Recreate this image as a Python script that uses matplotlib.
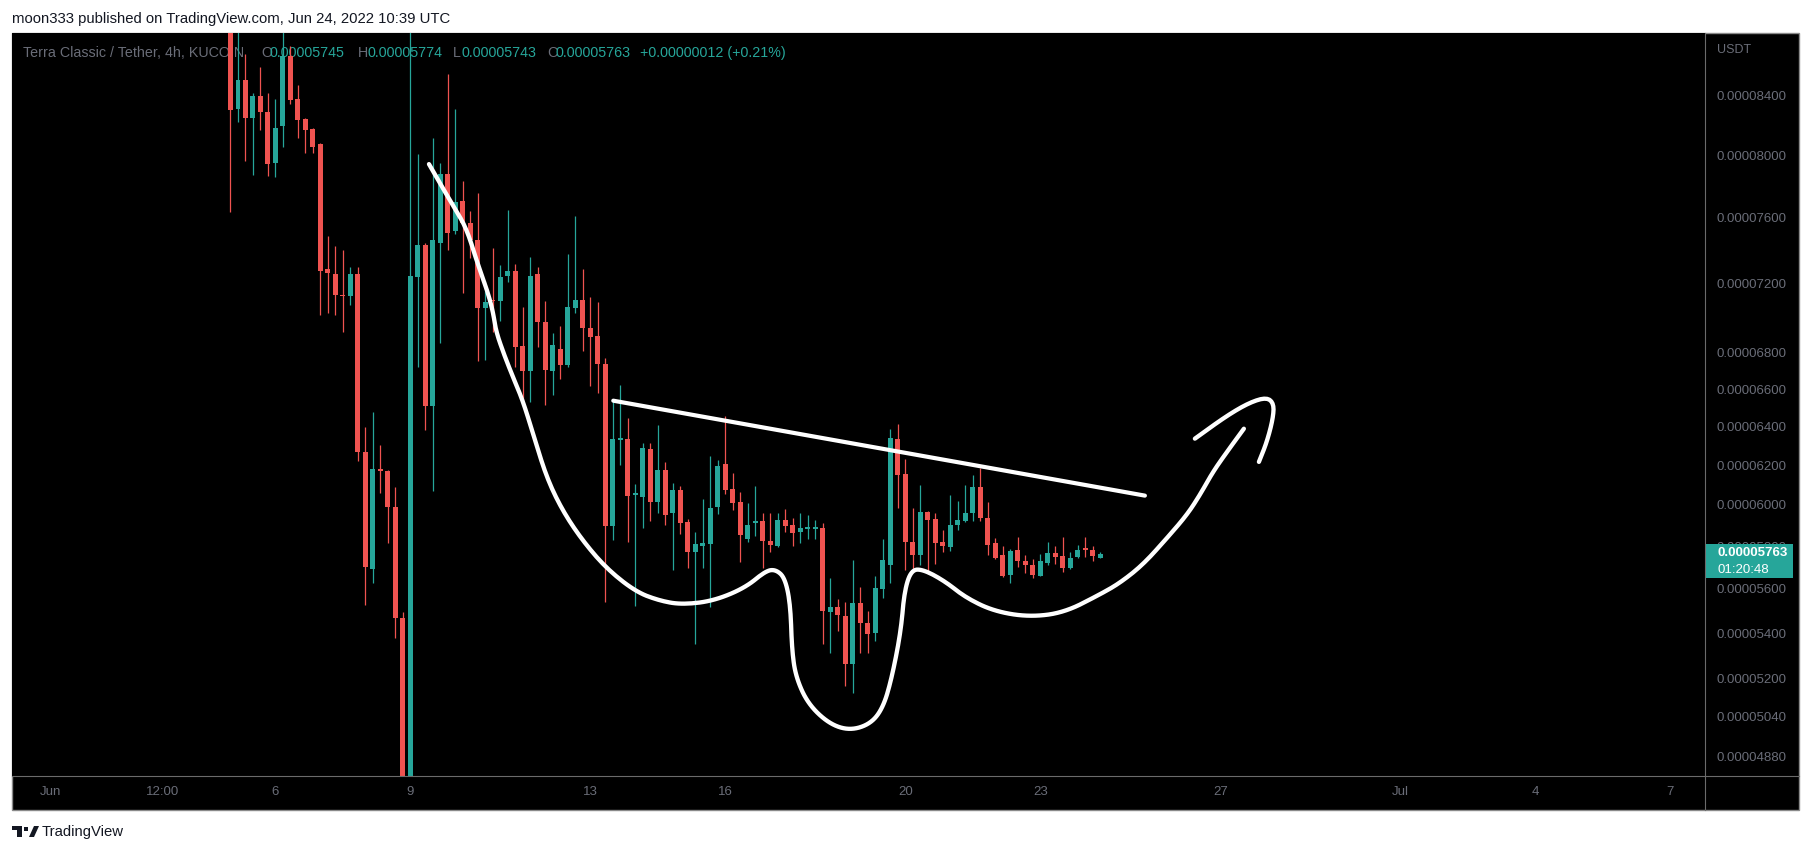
import numpy as np
import matplotlib
matplotlib.use('Agg')
import matplotlib.pyplot as plt
from matplotlib.patches import Rectangle, Polygon
from matplotlib.lines import Line2D
from matplotlib.ticker import FixedLocator, NullLocator, NullFormatter, FuncFormatter

plt.rcParams['font.family'] = ['Liberation Sans', 'DejaVu Sans']

# LUNC/USDT 4h candles, prices in units of 1e-8 USDT, first candle Jun 5 00:00
opens = [8900, 8308, 8508, 8249, 8397, 8290, 7950, 8195, 8677, 8375,
         8240, 8173, 8071, 7287, 7257, 7133, 7123, 7257, 6269, 5694,
         6182, 6168, 5991, 5469, 4700, 7235, 7431, 6511, 7445, 7876,
         7513, 7702, 7565, 7462, 7054, 7100, 7097, 7245, 7275, 6836,
         6700, 7257, 6974, 6700, 6819, 6732, 7057, 7104, 6942, 6892,
         6736, 5897, 6330, 6336, 6050, 6040, 6284, 6016, 6177, 5959,
         6072, 5916, 5772, 5800, 5811, 5988, 6203, 6077, 6013, 5833,
         5912, 5921, 5826, 5800, 5925, 5902, 5867, 5884, 5884, 5886,
         5496, 5518, 5478, 5264, 5536, 5446, 5402, 5600, 5712, 6336,
         6153, 5819, 5758, 5964, 5930, 5819, 5797, 5903, 5921, 5958,
         6087, 5935, 5814, 5759, 5664, 5781, 5730, 5712, 5661, 5720,
         5767, 5753, 5697, 5748, 5791, 5783, 5745]
highs = [9100, 8900, 8696, 8420, 8602, 8416, 8381, 8900, 8750, 8473,
         8247, 8182, 8077, 7483, 7425, 7401, 7296, 7296, 6397, 6475,
         6301, 6175, 6087, 5495, 9000, 8006, 7445, 8110, 7945, 8550,
         8306, 7832, 7641, 7753, 7215, 7411, 7311, 7647, 7317, 7060,
         7356, 7296, 7098, 6909, 6951, 7377, 7610, 7285, 7120, 7090,
         6773, 6537, 6620, 6444, 6102, 6311, 6316, 6405, 6213, 6107,
         6094, 5930, 5867, 6028, 6247, 6224, 6453, 6162, 6062, 6008,
         6092, 5959, 5959, 5962, 5978, 5935, 5959, 5949, 5926, 5911,
         5652, 5551, 5541, 5734, 5607, 5499, 5661, 5832, 6388, 6414,
         6233, 5986, 6099, 5970, 5959, 5878, 6049, 6020, 6099, 6147,
         6186, 6016, 5841, 5799, 5787, 5843, 5756, 5739, 5762, 5822,
         5799, 5846, 5771, 5806, 5846, 5799, 5774]
lows = [7636, 8222, 7962, 7870, 8166, 7864, 7860, 8055, 8342, 8114,
        8015, 8015, 7013, 7023, 7013, 6917, 7071, 6223, 5528, 5627,
        6057, 5813, 5377, 4600, 4500, 6720, 6379, 6069, 6853, 7401,
        7497, 7143, 7350, 6755, 6760, 6919, 6980, 7205, 6720, 6528,
        6528, 6830, 6516, 6568, 6654, 6718, 7027, 6810, 6618, 6577,
        5540, 5830, 6199, 5822, 5521, 5886, 5922, 5959, 5903, 5685,
        5857, 5697, 5351, 5697, 5518, 5954, 6052, 5974, 5727, 5819,
        5848, 5697, 5772, 5794, 5867, 5799, 5814, 5833, 5835, 5351,
        5310, 5409, 5171, 5140, 5314, 5314, 5366, 5556, 5628, 5983,
        5685, 5690, 5712, 5667, 5717, 5771, 5778, 5878, 5918, 5921,
        5921, 5760, 5738, 5655, 5628, 5700, 5674, 5650, 5658, 5712,
        5717, 5679, 5694, 5746, 5748, 5729, 5743]
closes = [8301, 8508, 8249, 8397, 8290, 7943, 8180, 8677, 8370, 8235,
          8168, 8053, 7271, 7259, 7129, 7123, 7257, 6269, 5701, 6178,
          6168, 5989, 5466, 4700, 7245, 7431, 6511, 7462, 7876, 7506,
          7696, 7565, 7462, 7054, 7092, 7095, 7237, 7275, 6832, 6700,
          7245, 6974, 6704, 6841, 6732, 7060, 7104, 6938, 6888, 6735,
          5897, 6336, 6340, 6044, 6058, 6289, 6016, 6177, 5950, 6072,
          5911, 5772, 5810, 5815, 5983, 6197, 6074, 6008, 5854, 5903,
          5922, 5825, 5805, 5925, 5897, 5864, 5886, 5887, 5888, 5499,
          5518, 5480, 5264, 5536, 5443, 5397, 5604, 5734, 6339, 6149,
          5822, 5758, 5964, 5926, 5817, 5802, 5902, 5925, 5959, 6087,
          5938, 5806, 5743, 5660, 5775, 5728, 5712, 5662, 5728, 5769,
          5748, 5697, 5744, 5781, 5783, 5751, 5763]
first_day = 5.0   # June 5, 00:00
bar_hours = 4

price_ticks = [8400, 8000, 7600, 7200, 6800, 6600, 6400, 6200, 6000,
               5800, 5600, 5400, 5200, 5040, 4880]
x_ticks = [1, 3.5, 6, 9, 13, 16, 20, 23, 27, 31, 34, 37]
x_labels = ['Jun', '12:00', '6', '9', '13', '16', '20', '23', '27', 'Jul', '4', '7']

# hand drawn pattern (day of June, price)
cup_days = [9.411, 9.767, 10.011, 10.256, 10.478, 10.7, 10.833, 10.9, 11.078, 11.278,
            11.5, 11.744, 12.033, 12.389, 12.833, 13.367, 14.011, 14.544, 15.033, 15.722,
            16.433, 16.9, 17.122, 17.322, 17.444, 17.478, 17.567, 17.833, 18.3, 18.767,
            19.233, 19.509, 19.7, 19.9, 19.976, 20.133, 20.404, 20.878, 21.344, 21.967,
            22.744, 23.522, 24.322, 24.767, 25.278, 25.811, 26.256, 26.544, 26.833, 27.144,
            27.522]
cup_prices = [7941, 7761, 7647, 7523, 7328, 7162, 7035, 6921, 6791, 6665,
              6535, 6346, 6132, 5968, 5824, 5692, 5586, 5545, 5528, 5544,
              5604, 5684, 5689, 5650, 5528, 5323, 5207, 5095, 5012, 4984,
              5012, 5081, 5207, 5409, 5589, 5689, 5689, 5635, 5559, 5498,
              5472, 5491, 5574, 5627, 5712, 5838, 5951, 6049, 6165, 6267,
              6388]
arrow_days = [26.433, 27.144, 27.656, 28.033, 28.189, 28.167, 28.033, 27.856]
arrow_prices = [6336, 6457, 6528, 6555, 6520, 6440, 6319, 6216]
neck_days = [13.507, 25.322]
neck_prices = [6537, 6046]

UP = '#26a69a'
DOWN = '#ef5350'
GREY = '#6a6d78'
DARK = '#131722'

W, H = 1813, 855
def fx(px): return px / W
def fy(py): return 1 - py / H


def smooth_stroke(xs, ys, n=3):
    # chaikin corner cutting so the freehand stroke looks round (log price space)
    p = np.column_stack([xs, np.log(ys)])
    for _ in range(n):
        q = 0.75 * p[:-1] + 0.25 * p[1:]
        r = 0.25 * p[:-1] + 0.75 * p[1:]
        mid = np.empty((2 * len(q), 2))
        mid[0::2] = q
        mid[1::2] = r
        p = np.vstack([p[:1], mid, p[-1:]])
    return p[:, 0], np.exp(p[:, 1])


fig = plt.figure(figsize=(W / 100, H / 100), dpi=100)
fig.patch.set_facecolor('white')

# chart frame
fig.add_artist(Rectangle((fx(12), fy(810)), (1799 - 12) / W, (810 - 33) / H,
                         transform=fig.transFigure, facecolor='black',
                         edgecolor='#8a8a8a', lw=1, zorder=-5))
fig.add_artist(Line2D([fx(1705), fx(1705)], [fy(33), fy(810)], color='#6b6b6b', lw=0.8, zorder=4))
fig.add_artist(Line2D([fx(12), fx(1799)], [fy(776), fy(776)], color='#6b6b6b', lw=0.8, zorder=4))

ax = fig.add_axes([fx(12), fy(776), (1705 - 12) / W, (776 - 33) / H])
ax.set_facecolor('black')
for s in ax.spines.values():
    s.set_visible(False)

o = np.array(opens, float); c = np.array(closes, float)
hi = np.array(highs, float); lo = np.array(lows, float)
t = first_day + np.arange(len(o)) * bar_hours / 24.0
cols = np.where(c >= o, UP, DOWN)
ax.vlines(t, lo, hi, colors=cols, lw=0.9, zorder=2)
bottom = np.minimum(o, c)
height = np.maximum(np.abs(c - o), 6)
ax.bar(t, height, bottom=bottom, width=0.111, color=cols, linewidth=0, zorder=3)

# drawings
cx, cy = smooth_stroke(cup_days, cup_prices)
ax.plot(cx, cy, color='white', lw=3.1, solid_capstyle='round',
        solid_joinstyle='round', zorder=5)
axx, axy = smooth_stroke(arrow_days, arrow_prices, 2)
ax.plot(axx, axy, color='white', lw=3.1, solid_capstyle='round',
        solid_joinstyle='round', zorder=5)
ax.plot(neck_days, neck_prices, color='white', lw=3.0, solid_capstyle='round', zorder=5)

ax.set_yscale('log')
ax.set_ylim(4801, 8845)
ax.set_xlim(0.144, 37.77)
ax.yaxis.set_major_locator(FixedLocator(price_ticks))
ax.yaxis.set_minor_locator(NullLocator())
ax.yaxis.set_minor_formatter(NullFormatter())
ax.yaxis.set_major_formatter(FuncFormatter(lambda v, p: f"{v * 1e-8:.8f}"))
ax.yaxis.tick_right()
ax.tick_params(axis='y', length=0, pad=8.6, labelcolor=GREY, labelsize=9.5)
ax.xaxis.set_major_locator(FixedLocator(x_ticks))
ax.set_xticklabels(x_labels)
ax.tick_params(axis='x', length=0, pad=7, labelcolor=GREY, labelsize=9.5)

# texts
fig.text(fx(12), fy(19), "moon333 published on TradingView.com, Jun 24, 2022 10:39 UTC",
         color=DARK, fontsize=10.7, va='center')
fig.text(fx(1717), fy(50), "USDT", color=GREY, fontsize=9, va='center')

chg = c[-1] - c[-2]
segs = [("Terra Classic / Tether, 4h, KUCOIN", GREY, 23),
        ("O", GREY, 261), (f"{o[-1] * 1e-8:.8f}", UP, 270),
        ("H", GREY, 358), (f"{hi[-1] * 1e-8:.8f}", UP, 367),
        ("L", GREY, 453), (f"{lo[-1] * 1e-8:.8f}", UP, 461),
        ("C", GREY, 547), (f"{c[-1] * 1e-8:.8f}", UP, 556),
        (f"{chg * 1e-8:+.8f} ({chg / c[-2] * 100:+.2f}%)", UP, 640)]
for txt, col, px in segs:
    # header sits under the candles, as on the chart
    ax.text(fx(px), fy(53), txt, color=col, fontsize=10.3, va='center',
            transform=fig.transFigure, zorder=1)

# last price label
fig.add_artist(Rectangle((fx(1706), fy(578)), (1793 - 1706) / W, 34 / H,
                         transform=fig.transFigure, facecolor=UP, edgecolor='none', zorder=6))
fig.text(fx(1717), fy(553), f"{c[-1] * 1e-8:.8f}", color='white', fontsize=9.5,
         fontweight='bold', va='center', zorder=7)
fig.text(fx(1717), fy(570), "01:20:48", color='white', fontsize=9.5, va='center', zorder=7)

# footer logo
fig.add_artist(Polygon([(fx(12), fy(826)), (fx(22), fy(826)), (fx(22), fy(837)),
                        (fx(17), fy(837)), (fx(17), fy(830)), (fx(12), fy(830))],
                       closed=True, transform=fig.transFigure, facecolor=DARK, edgecolor='none'))
fig.add_artist(Polygon([(fx(29), fy(837)), (fx(34), fy(826)), (fx(39), fy(826)), (fx(34), fy(837))],
                       closed=True, transform=fig.transFigure, facecolor=DARK, edgecolor='none'))
fig.add_artist(Rectangle((fx(24), fy(830.5)), 4 / W, 4 / H, transform=fig.transFigure,
                         facecolor=DARK, edgecolor='none'))
fig.text(fx(42), fy(832), "TradingView", color=DARK, fontsize=10.7, va='center')

fig.savefig('out.png', dpi=100, facecolor='white')
